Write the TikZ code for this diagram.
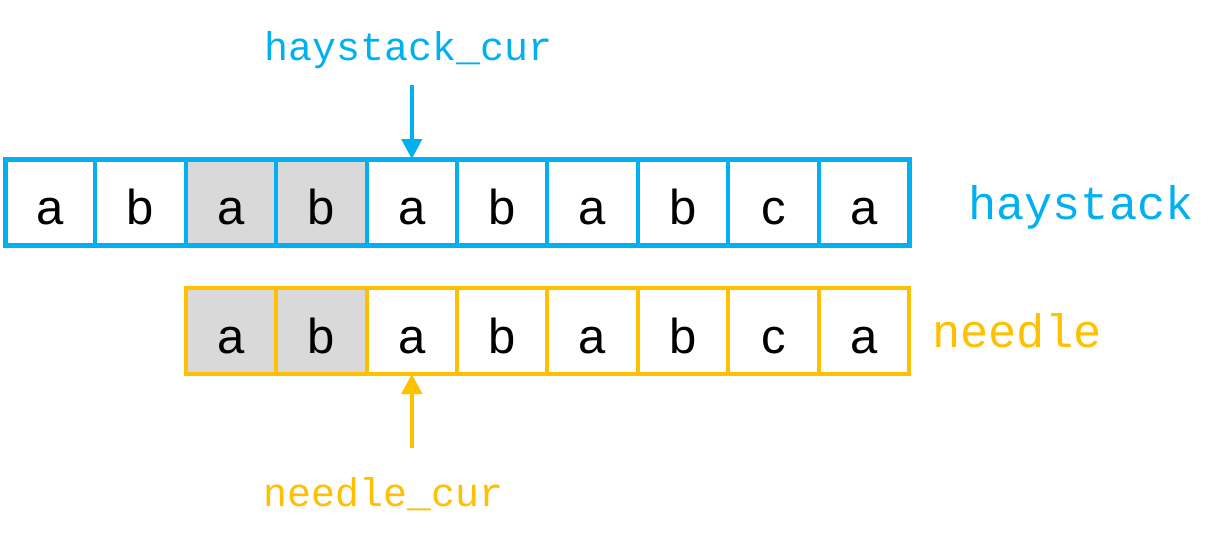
\documentclass[tikz,border=0pt]{standalone}
\usepackage{fontspec}
\setmainfont{Liberation Sans}
\newfontfamily\labelfont{Liberation Mono}
\usetikzlibrary{arrows.meta}
\definecolor{hblue}{HTML}{00B0F0}
\definecolor{nyellow}{HTML}{FFC000}
\definecolor{hgray}{HTML}{D9D9D9}
\begin{document}
\begin{tikzpicture}[x=1pt,y=-1pt,
  cell/.style={draw, line width=4pt, minimum width=90.4pt, minimum height=86pt, inner sep=0pt, outer sep=0pt, text height=44pt, text depth=0pt, font=\fontsize{49}{49}\selectfont, text=black},
  hcell/.style={cell, draw=hblue},
  ncell/.style={cell, draw=nyellow},
  grayed/.style={fill=hgray},
  ptr/.style={line width=4.5pt, -{Triangle[width=20pt,length=20pt]}},
  curlabel/.style={font=\labelfont\fontsize{40}{40}\selectfont, inner sep=0pt},
  namelabel/.style={font=\labelfont\fontsize{47}{47}\selectfont, inner sep=0pt}]
\useasboundingbox (0,0) rectangle (1232,547);
% haystack cells
\foreach \i/\c in {0/a,1/b,4/a,5/b,6/a,7/b,8/c,9/a}{
  \node[hcell] (h\i) at ({50.2+90.4*\i},202) {\c};
}
\node[hcell,grayed] (h2) at ({50.2+90.4*2},202) {a};
\node[hcell,grayed] (h3) at ({50.2+90.4*3},202) {b};
\draw[hblue, line width=5pt] (h0.north west) rectangle (h9.south east);
% needle cells
\foreach \i/\c in {2/a,3/b,4/a,5/b,6/c,7/a}{
  \node[ncell] (n\i) at ({50.2+90.4*(\i+2)},331) {\c};
}
\node[ncell,grayed] (n0) at ({50.2+90.4*2},331) {a};
\node[ncell,grayed] (n1) at ({50.2+90.4*3},331) {b};
\draw[nyellow, line width=4.5pt] (n0.north west) rectangle (n7.south east);
% labels
\node[curlabel, text=hblue] (hcurlabel) at (409,50) {haystack\_cur};
\node[curlabel, text=nyellow] (ncurlabel) at (384,494) {needle\_cur};
\node[namelabel, text=hblue] (hlabel) at (1081,207) {haystack};
\node[namelabel, text=nyellow] (nlabel) at (1017,331) {needle};
% pointers
\coordinate (htail) at ([yshift=74pt]h4.north);
\coordinate (ntail) at ([yshift=-74pt]n2.south);
\draw[ptr, hblue] (htail) -- (h4.north);
\draw[ptr, nyellow] (ntail) -- (n2.south);
\end{tikzpicture}
\end{document}
